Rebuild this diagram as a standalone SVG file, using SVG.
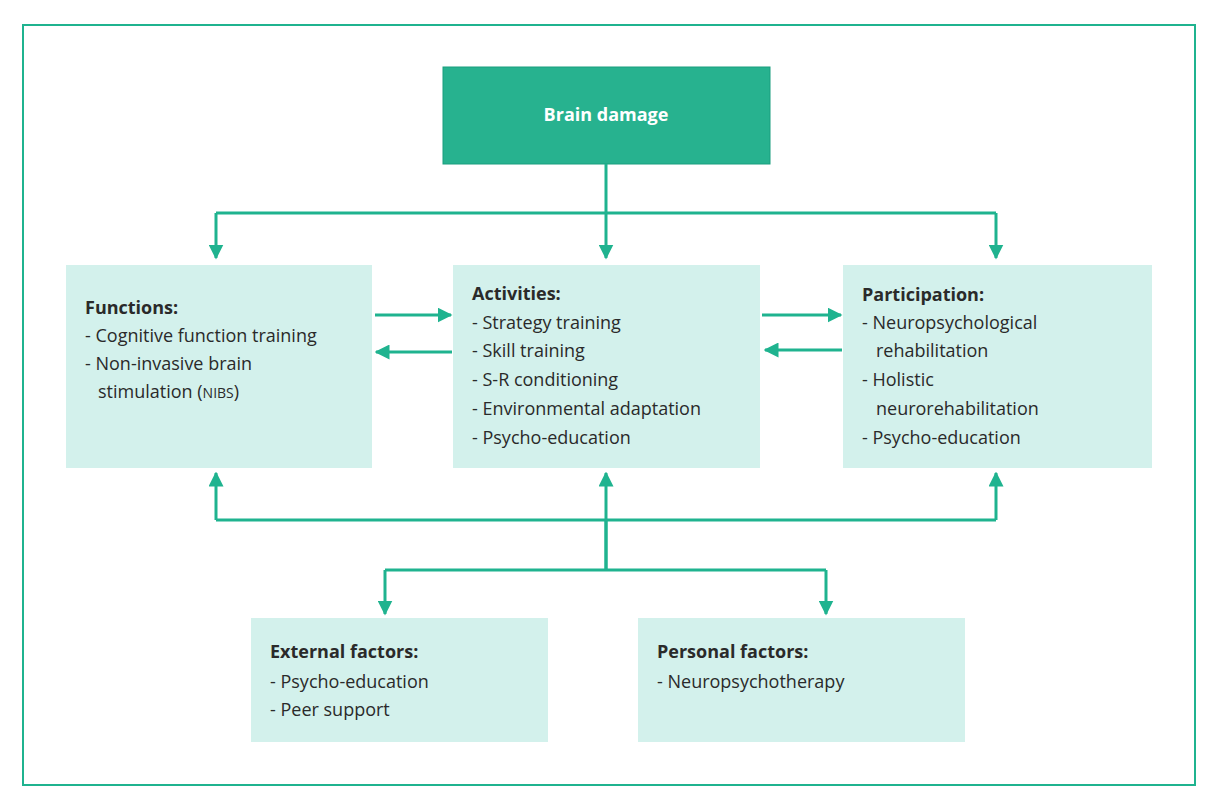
<svg xmlns="http://www.w3.org/2000/svg" width="1226" height="810" viewBox="0 0 1226 810">
<style>
text{font-family:"Open Sans","Noto Sans",sans-serif;font-size:18px;fill:#2a2a2a}
.t{font-weight:bold}
.box{fill:#d3f1ec}
.ln{stroke:#1fb38f;stroke-width:3;fill:none}
</style>
<defs><marker id="a" viewBox="0 0 10 10" refX="9" refY="5" markerWidth="5" markerHeight="5" orient="auto"><path d="M0,0L10,5L0,10z" fill="#1fb38f"/></marker></defs>
<rect width="1226" height="810" fill="#fff"/>
<rect x="23" y="25" width="1172" height="760" fill="none" stroke="#1fb38f" stroke-width="2"/>
<g id="brain"><rect x="443" y="67" width="327" height="97" fill="#27b28f" stroke="#1a9e7e"/><text x="606" y="121" text-anchor="middle" class="t" style="fill:#fff">Brain damage</text></g>
<g id="functions"><rect class="box" x="66" y="265" width="306" height="203"/>
<text x="85" y="314" class="t">Functions:</text>
<text x="85" y="342">- Cognitive function training</text>
<text x="85" y="370">- Non-invasive brain</text>
<text x="98" y="398">stimulation (<tspan font-size="14">NIBS</tspan>)</text></g>
<g id="activities"><rect class="box" x="453" y="265" width="307" height="203"/>
<text x="472" y="300" class="t">Activities:</text>
<text x="472" y="329">- Strategy training</text>
<text x="472" y="357">- Skill training</text>
<text x="472" y="386">- S-R conditioning</text>
<text x="472" y="415">- Environmental adaptation</text>
<text x="472" y="444">- Psycho-education</text></g>
<g id="participation"><rect class="box" x="843" y="265" width="309" height="203"/>
<text x="862" y="301" class="t">Participation:</text>
<text x="862" y="329">- Neuropsychological</text>
<text x="876" y="357">rehabilitation</text>
<text x="862" y="386">- Holistic</text>
<text x="876" y="415">neurorehabilitation</text>
<text x="862" y="444">- Psycho-education</text></g>
<g id="external"><rect class="box" x="251" y="618" width="297" height="124"/>
<text x="270" y="658" class="t">External factors:</text>
<text x="270" y="688">- Psycho-education</text>
<text x="270" y="716">- Peer support</text></g>
<g id="personal"><rect class="box" x="638" y="618" width="327" height="124"/>
<text x="657" y="658" class="t">Personal factors:</text>
<text x="657" y="688">- Neuropsychotherapy</text></g>
<g id="connectors" class="ln">
<path d="M606,164V213M216,213H996"/>
<path d="M216,213V258" marker-end="url(#a)"/>
<path d="M606,213V258" marker-end="url(#a)"/>
<path d="M996,213V258" marker-end="url(#a)"/>
<path d="M375,315H451" marker-end="url(#a)"/>
<path d="M452,352H376" marker-end="url(#a)"/>
<path d="M762,315H841" marker-end="url(#a)"/>
<path d="M842,350H765" marker-end="url(#a)"/>
<path d="M216,520H996M606,520V570M385,570H826"/>
<path d="M216,520V473" marker-end="url(#a)"/>
<path d="M606,570V473" marker-end="url(#a)"/>
<path d="M996,520V473" marker-end="url(#a)"/>
<path d="M385,570V614" marker-end="url(#a)"/>
<path d="M826,570V614" marker-end="url(#a)"/>
</g>
</svg>
